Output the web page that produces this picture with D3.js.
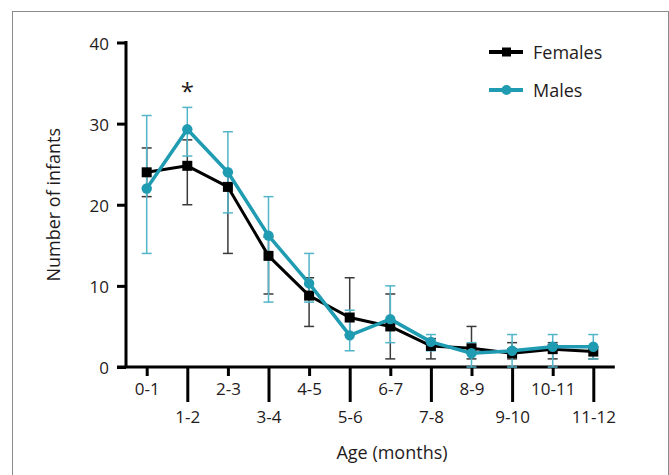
<!DOCTYPE html>
<html>
<head>
<meta charset="utf-8">
<script src="https://cdn.jsdelivr.net/npm/d3@7"></script>
<style>
  body { margin: 0; background: #fff; }
  text { font-family: "Open Sans", "Noto Sans", sans-serif; fill: #1f1b1c; }
</style>
</head>
<body>
<svg id="chart" width="669" height="475"></svg>
<script>
const categories = ["0-1", "1-2", "2-3", "3-4", "4-5", "5-6", "6-7", "7-8", "8-9", "9-10", "10-11", "11-12"];
const females     = [24, 24.8, 22.2, 13.7, 8.8, 6.1, 5.0, 2.6, 2.3, 1.7, 2.2, 1.9];
const femalesLow  = [21, 20, 14, 9, 5, 4, 1, 1, 1, 1, 1, 1];
const femalesHigh = [27, 28, 24, 16, 11, 11, 9, 3.5, 5, 3, 3, 2.5];
const males       = [22, 29.3, 24, 16.2, 10.3, 3.9, 5.9, 3.1, 1.7, 2.0, 2.5, 2.5];
const malesLow    = [14, 26, 19, 8, 8, 2, 3, 2, 0, 0, 0, 1];
const malesHigh   = [31, 32, 29, 21, 14, 7, 10, 4, 3, 4, 4, 4];
const yTicks = [0, 10, 20, 30, 40];

const svg = d3.select("#chart");
const cyan = "#1f9bb2";
const cyanLight = "#52b5c8";

// frame
svg.append("rect")
  .attr("x", 12.5).attr("y", 11.5)
  .attr("width", 656).attr("height", 480)
  .attr("fill", "none").attr("stroke", "#8a8a8a").attr("stroke-width", 1);

const x = d3.scalePoint()
  .domain(categories)
  .range([146.7, 593.3]);

const y = d3.scaleLinear()
  .domain([0, 40])
  .range([367, 42.5]);

const step = x.step();

// y axis
const yAxis = svg.append("g")
  .attr("transform", "translate(126,0)")
  .call(d3.axisLeft(y).tickValues(yTicks).tickSize(9).tickSizeOuter(0).tickPadding(8));
yAxis.select(".domain").attr("stroke", "#000").attr("stroke-width", 3)
  .attr("d", `M0,${y(40) - 1.5}V${y(0)}`);
yAxis.selectAll(".tick line").attr("stroke", "#000").attr("stroke-width", 3);
yAxis.selectAll(".tick text")
  .style("font-size", "17px").attr("fill", "#1f1b1c").attr("dy", "0.4em");

// x axis
const xAxis = svg.append("g")
  .attr("transform", `translate(0,${y(0)})`)
  .call(d3.axisBottom(x).tickSize(0).tickSizeOuter(0));
xAxis.select(".domain").remove();
xAxis.append("line")
  .attr("x1", x(categories[0]) - 0.73 * step)
  .attr("x2", x(categories[categories.length - 1]) + 0.53 * step)
  .attr("stroke", "#000").attr("stroke-width", 3);
xAxis.selectAll(".tick line")
  .attr("stroke", "#000").attr("stroke-width", 3)
  .attr("y2", (d, i) => i % 2 === 0 ? 9 : 35);
xAxis.selectAll(".tick text")
  .style("font-size", "17px").attr("fill", "#1f1b1c")
  .attr("dy", null)
  .attr("y", (d, i) => i % 2 === 0 ? 28 : 56);

// axis titles
svg.append("text")
  .attr("transform", `translate(60,${(y(0) + y(40)) / 2}) rotate(-90)`)
  .attr("text-anchor", "middle")
  .style("font-size", "18px")
  .text("Number of infants");

svg.append("text")
  .attr("x", 392).attr("y", 459)
  .attr("text-anchor", "middle")
  .style("font-size", "18px")
  .text("Age (months)");

// error bars
function errorBars(low, high, color, width) {
  const g = svg.append("g").attr("stroke", color).attr("stroke-width", width);
  categories.forEach((c, i) => {
    g.append("line")
      .attr("x1", x(c)).attr("x2", x(c))
      .attr("y1", y(low[i])).attr("y2", y(high[i]));
    [low[i], high[i]].forEach(v => {
      g.append("line")
        .attr("x1", x(c) - 5).attr("x2", x(c) + 5)
        .attr("y1", y(v)).attr("y2", y(v));
    });
  });
}
errorBars(femalesLow, femalesHigh, "#3a3a3a", 1.5);
errorBars(malesLow, malesHigh, cyanLight, 1.5);

const line = d3.line()
  .x((d, i) => x(categories[i]))
  .y(d => y(d));

// females
svg.append("path")
  .datum(females)
  .attr("d", line)
  .attr("fill", "none").attr("stroke", "#000").attr("stroke-width", 3)
  .attr("stroke-linejoin", "round");
svg.append("g").selectAll("rect")
  .data(females)
  .join("rect")
  .attr("x", (d, i) => x(categories[i]) - 5)
  .attr("y", d => y(d) - 5)
  .attr("width", 10).attr("height", 10)
  .attr("fill", "#000");

// males
svg.append("path")
  .datum(males)
  .attr("d", line)
  .attr("fill", "none").attr("stroke", cyan).attr("stroke-width", 3.5)
  .attr("stroke-linejoin", "round");
svg.append("g").selectAll("circle")
  .data(males)
  .join("circle")
  .attr("cx", (d, i) => x(categories[i]))
  .attr("cy", d => y(d))
  .attr("r", 5.2)
  .attr("fill", cyan);

// significance marker
svg.append("text")
  .attr("x", x("1-2")).attr("y", 100)
  .attr("text-anchor", "middle")
  .style("font-size", "24px")
  .text("*");

// legend
const legend = [
  { name: "Females", color: "#000", shape: "square", y: 52 },
  { name: "Males", color: cyan, shape: "circle", y: 90 }
];
const lg = svg.append("g");
legend.forEach(d => {
  lg.append("line")
    .attr("x1", 489).attr("x2", 523)
    .attr("y1", d.y).attr("y2", d.y)
    .attr("stroke", d.color).attr("stroke-width", 4);
  if (d.shape === "square") {
    lg.append("rect")
      .attr("x", 502).attr("y", d.y - 4.5)
      .attr("width", 9).attr("height", 9)
      .attr("fill", d.color);
  } else {
    lg.append("circle")
      .attr("cx", 506.5).attr("cy", d.y).attr("r", 5)
      .attr("fill", d.color);
  }
  lg.append("text")
    .attr("x", 533).attr("y", d.y + 6.5)
    .style("font-size", "18px")
    .text(d.name);
});
</script>
</body>
</html>
